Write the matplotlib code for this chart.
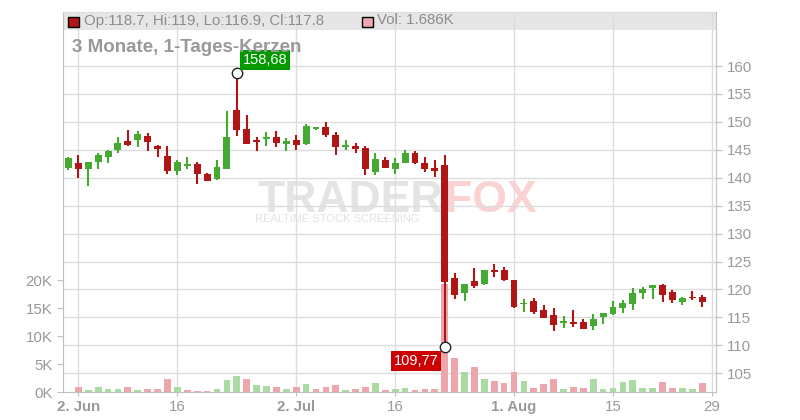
import numpy as np
import matplotlib
matplotlib.use('Agg')
import matplotlib.pyplot as plt
import matplotlib.transforms as mtransforms
from matplotlib.patches import Rectangle
from matplotlib.ticker import FuncFormatter

plt.rcParams['font.family'] = ['Liberation Sans', 'DejaVu Sans']

# daily candles, first day 30 May 2025, one entry per trading day
start_day = '2025-05-30'
opens = [141.67, 142.56, 141.49, 142.80, 143.63, 144.88, 146.55, 146.73, 147.56, 145.60,
         143.81, 141.19, 142.20, 142.38, 140.60, 139.76, 141.55, 152.14, 148.69, 146.67,
         147.02, 147.38, 146.13, 146.67, 146.13, 148.81, 149.17, 147.74, 145.48, 145.77,
         145.24, 141.01, 143.10, 141.49, 142.56, 144.35, 142.56, 141.67, 142.31, 122.07,
         119.42, 121.52, 120.90, 123.48, 123.48, 121.70, 117.42, 117.96, 116.35, 115.46,
         114.06, 114.18, 114.18, 113.52, 115.13, 115.64, 116.70, 117.44, 119.40, 120.30,
         120.77, 119.52, 117.80, 118.65, 118.70]
highs = [143.75, 143.99, 142.74, 144.35, 144.94, 147.38, 148.63, 148.45, 148.10, 145.95,
         145.77, 143.21, 143.63, 142.74, 140.77, 143.10, 152.02, 158.68, 151.25, 147.38,
         148.27, 148.45, 147.20, 147.74, 149.70, 149.17, 150.06, 148.27, 146.67, 146.31,
         145.60, 144.52, 143.63, 143.45, 144.88, 144.70, 143.63, 143.10, 144.10, 122.97,
         120.98, 123.84, 123.48, 124.55, 124.02, 121.72, 118.29, 118.50, 117.25, 116.71,
         115.20, 116.32, 114.65, 115.63, 115.73, 117.91, 118.05, 120.24, 120.48, 120.77,
         120.95, 119.88, 118.63, 119.70, 119.00]
lows = [141.37, 139.88, 138.51, 141.49, 142.56, 144.52, 145.77, 145.48, 144.76, 143.69,
        140.65, 140.48, 141.55, 138.87, 139.34, 139.52, 141.55, 147.50, 146.00, 144.76,
        145.60, 145.42, 144.70, 144.88, 145.95, 148.63, 147.38, 144.05, 144.94, 144.40,
        140.48, 140.48, 141.73, 140.60, 142.56, 142.38, 140.95, 140.06, 109.77, 118.37,
        118.00, 120.26, 120.85, 122.18, 121.58, 116.77, 115.97, 115.67, 114.95, 112.63,
        113.16, 113.34, 112.99, 112.82, 113.84, 115.37, 115.80, 116.37, 118.33, 118.33,
        117.68, 117.56, 117.26, 118.15, 116.90]
closes = [143.45, 141.49, 142.74, 143.99, 144.70, 146.31, 145.95, 147.92, 146.37, 145.06,
          141.19, 142.74, 142.40, 140.65, 139.40, 141.85, 147.38, 148.57, 146.13, 146.37,
          147.38, 146.31, 146.49, 145.95, 149.35, 149.17, 147.74, 145.48, 145.95, 145.06,
          141.55, 143.27, 141.73, 142.56, 144.35, 142.56, 141.49, 141.13, 121.42, 119.07,
          120.98, 120.68, 123.48, 123.15, 121.70, 116.92, 117.60, 115.96, 114.95, 113.67,
          114.33, 113.88, 112.99, 114.72, 115.73, 116.86, 117.58, 119.35, 120.06, 120.77,
          119.05, 118.15, 118.40, 118.50, 117.80]
volumes = [0, 820, 410, 820, 590, 590, 820, 410, 590, 590,
           2350, 820, 410, 240, 240, 590, 2180, 2880, 2350, 1290,
           1120, 820, 590, 820, 1470, 590, 820, 1290, 410, 590,
           940, 1650, 410, 590, 700, 410, 590, 590, 19300, 6100,
           3600, 4500, 2350, 2000, 1650, 3600, 2000, 760, 1470, 2350,
           590, 940, 700, 2350, 590, 760, 1820, 2180, 760, 760,
           1820, 760, 760, 590, 1686]

tick_dates = ['2025-06-02', '2025-06-16', '2025-07-02', '2025-07-16',
              '2025-08-01', '2025-08-15', '2025-08-29']
tick_labels = ['2. Jun', '16', '2. Jul', '16', '1. Aug', '15', '29']
price_ticks = [105, 110, 115, 120, 125, 130, 135, 140, 145, 150, 155, 160]
vol_ticks = [0, 5000, 10000, 15000, 20000]

GREEN = '#46aa32'
RED = '#b01616'
VGREEN = '#a9dba2'
VPINK = '#eea6ad'
AXC = '#c0c0c0'
GRIDC = '#dddddd'
TXT = '#999999'

o = np.array(opens); h = np.array(highs); l = np.array(lows); c = np.array(closes)
x = np.arange(len(c))
tick_pos = [np.busday_count(start_day, d) for d in tick_dates]

fig = plt.figure(figsize=(8, 4.2), dpi=100)
axv = fig.add_axes([63/800, 28/420, 653/800, 380/420])
axp = axv.twinx()

# volume (left axis, drawn underneath)
vcol = [VGREEN if i > 0 and c[i] >= c[i-1] else VPINK for i in range(len(c))]
axv.bar(x, volumes, width=0.68, color=vcol, zorder=2)
axv.set_ylim(0, 67860)
axv.set_yticks(vol_ticks)
axv.yaxis.set_major_formatter(FuncFormatter(lambda v, _: '%dK' % round(v/1000)))
axv.set_xlim(-0.55, 65.4)
axv.set_xticks(tick_pos)
axv.set_xticklabels(tick_labels)
for t in axv.get_xticklabels():
    if not t.get_text().isdigit():
        t.set_fontweight('bold')
axv.set_axisbelow(True)
axv.grid(axis='x', color=GRIDC, lw=1)
trans = mtransforms.blended_transform_factory(axv.transAxes, axp.transData)
for p in price_ticks:
    axv.plot([0, 1], [p, p], transform=trans, color=GRIDC, lw=1, zorder=0.6)
axv.tick_params(axis='both', colors=AXC, labelcolor=TXT, labelsize=10.8, length=4)
axv.tick_params(axis='x', length=3, pad=3)
for s in ['left', 'bottom', 'top']:
    axv.spines[s].set_color(AXC)
axv.spines['top'].set_color(GRIDC)
axv.spines['right'].set_visible(False)

# legend band at the top of the plot
axv.add_patch(Rectangle((0, 1 - 17.6/380), 1, 17.6/380, transform=axv.transAxes,
                        fc='#e6e6e6', ec='none', zorder=0.1))

# watermark
axv.text(443/800, 1 - 212/420, 'TRADER', transform=fig.transFigure, ha='right',
         va='baseline', fontsize=32, fontweight='bold', color='#e4e4e4', zorder=0.3)
axv.text(445/800, 1 - 212/420, 'FOX', transform=fig.transFigure, ha='left',
         va='baseline', fontsize=32, fontweight='bold', color='#fad2d2', zorder=0.3)
axv.text(337/800, 1 - 219/420, 'REALTIME STOCK SCREENING', transform=fig.transFigure,
         ha='center', va='center', fontsize=8, color='#e2e2e2', zorder=0.3)

# candles (right axis)
ccol = [GREEN if c[i] >= o[i] else RED for i in range(len(c))]
body_lo = np.minimum(o, c)
body_h = np.abs(c - o)
small = body_h < 0.25
body_lo = np.where(small, (o + c) / 2 - 0.125, body_lo)
body_h = np.where(small, 0.25, body_h)
axp.vlines(x, l, h, colors=ccol, lw=1.5, zorder=3)
axp.bar(x, body_h, bottom=body_lo, width=0.7, color=ccol, zorder=4)
axp.set_ylim(101.65, 169.67)
axp.set_yticks(price_ticks)
axp.tick_params(axis='y', colors=AXC, labelcolor=TXT, labelsize=10.8, length=4)
for s in ['left', 'bottom', 'top']:
    axp.spines[s].set_visible(False)
axp.spines['right'].set_color(AXC)

# high / low markers
ih = int(np.argmax(h)); il = int(np.argmin(l))
axp.plot([ih, il], [h[ih], l[il]], 'o', mfc='white', mec='#222222', ms=7.5, mew=1, zorder=6)
axp.annotate(('%.2f' % h[ih]).replace('.', ','), xy=(ih, h[ih]), xytext=(28, 13.5),
             textcoords='offset pixels', ha='center', va='center', color='white',
             fontsize=10.5, zorder=7,
             bbox=dict(boxstyle='square,pad=0.2', fc='#009900', ec='none'))
axp.annotate(('%.2f' % l[il]).replace('.', ','), xy=(il, l[il]), xytext=(-28.5, -14.5),
             textcoords='offset pixels', ha='center', va='center', color='white',
             fontsize=10.5, zorder=7,
             bbox=dict(boxstyle='square,pad=0.2', fc='#cc0000', ec='none'))

# legend and title
fig.add_artist(Rectangle((68/800, 1 - 27/420), 11/800, 10/420, transform=fig.transFigure,
                         fc=RED, ec='black', lw=1))
fig.text(84/800, 1 - 20.5/420, 'Op:%g, Hi:%g, Lo:%g, Cl:%g' % (o[-1], h[-1], l[-1], c[-1]),
         va='center', fontsize=10.8, color='#8c8c8c')
fig.add_artist(Rectangle((362/800, 1 - 27/420), 11/800, 10/420, transform=fig.transFigure,
                         fc=VPINK, ec='black', lw=1))
fig.text(377/800, 1 - 20.5/420, 'Vol: %.3fK' % (volumes[-1] / 1000),
         va='center', fontsize=10.8, color='#8c8c8c')
fig.text(72/800, 1 - 47.5/420, '3 Monate, 1-Tages-Kerzen', va='center', fontsize=13.5,
         fontweight='bold', color=TXT)

fig.savefig('out.png', dpi=100)
